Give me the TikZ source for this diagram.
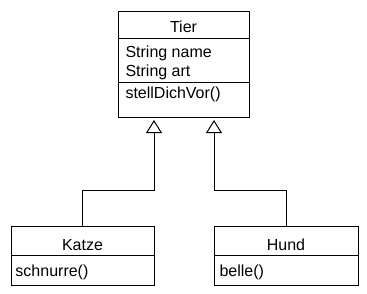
\documentclass[tikz,border=0pt]{standalone}
\usepackage{fontspec}
\setmainfont{Liberation Sans}
\usetikzlibrary{arrows.meta,positioning}

\begin{document}
\begin{tikzpicture}[x=1pt,y=-1pt,line width=1pt,
  part/.style={draw,anchor=north west,inner sep=0pt,outer sep=0pt},
  lbl/.style={anchor=base west,inner sep=0pt},
  ttl/.style={anchor=base,inner sep=0pt},
  inherits/.style={-{Triangle[open,width=16pt,length=13pt]},shorten >=3pt}]
\useasboundingbox (0,0) rectangle (367,293);
\fontsize{16}{19}\selectfont
% Tier
\node[part,minimum width=131,minimum height=27] (tier) at (118,11) {};
\node[part,minimum width=131,minimum height=44] (tierattr) at (tier.south west) {};
\node[part,minimum width=131,minimum height=35] (tiermeth) at (tierattr.south west) {};
\node[ttl] (tiername) at (183.5,32) {Tier};
\node[lbl] (tiera1) at (125,57) {String name};
\node[lbl] (tiera2) at (125,76) {String art};
\node[lbl] (tierm1) at (125,98) {stellDichVor()};
% Katze
\node[part,minimum width=143,minimum height=29] (katze) at (11,226) {};
\node[part,minimum width=143,minimum height=30] (katzemeth) at (katze.south west) {};
\node[ttl] (katzename) at (82.5,250) {Katze};
\node[lbl] (katzem1) at (15,276) {schnurre()};
% Hund
\node[part,minimum width=144,minimum height=29] (hund) at (214,226) {};
\node[part,minimum width=144,minimum height=30] (hundmeth) at (hund.south west) {};
\node[ttl] (hundname) at (286,250) {Hund};
\node[lbl] (hundm1) at (219,276) {belle()};
% vererbung
\draw[inherits] (katze.north) -- ++(0,-36) -| ([xshift=-29.5pt]tiermeth.south);
\draw[inherits] (hund.north) -- ++(0,-36) -| ([xshift=30.5pt]tiermeth.south);
\end{tikzpicture}
\end{document}
